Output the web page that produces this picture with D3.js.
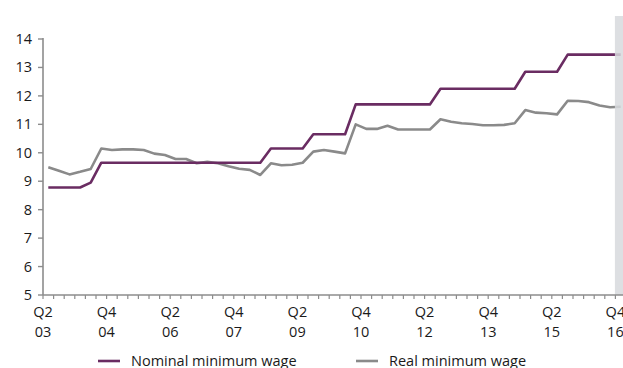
<!DOCTYPE html>
<html>

<head>
  <title>Minimum wage</title>
  <script src="https://cdn.jsdelivr.net/npm/d3@7"></script>
  <style>
    body { margin: 0; background: #fff; }
    text { font-family: "Open Sans", sans-serif; fill: #1a1a1a; }
  </style>
</head>

<body>
  <svg width="623" height="368" id="mainsvg"></svg>
  <script>
    // quarters Q2 03 .. Q4 16
    const quarters = [];
    for (let i = 0; i < 55; i++) {
      const q = (1 + i) % 4 + 1;
      const yr = 2003 + Math.floor((1 + i) / 4);
      quarters.push('Q' + q + ' ' + String(yr).slice(2));
    }

    const nominal = [
      8.78, 8.78, 8.78, 8.78, 8.95,
      9.65, 9.65, 9.65, 9.65, 9.65, 9.65, 9.65, 9.65, 9.65, 9.65, 9.65, 9.65, 9.65, 9.65, 9.65, 9.65,
      10.15, 10.15, 10.15, 10.15,
      10.65, 10.65, 10.65, 10.65,
      11.70, 11.70, 11.70, 11.70, 11.70, 11.70, 11.70, 11.70,
      12.25, 12.25, 12.25, 12.25, 12.25, 12.25, 12.25, 12.25,
      12.85, 12.85, 12.85, 12.85,
      13.45, 13.45, 13.45, 13.45, 13.45, 13.45
    ];

    const real = [
      9.49, 9.37, 9.24, 9.33, 9.43, 10.15, 10.10, 10.12, 10.12, 10.10,
      9.97, 9.92, 9.78, 9.78, 9.63, 9.68, 9.63, 9.53, 9.44, 9.40,
      9.22, 9.63, 9.56, 9.58, 9.65, 10.04, 10.10, 10.04, 9.98, 11.00,
      10.84, 10.84, 10.95, 10.82, 10.82, 10.82, 10.82, 11.18, 11.09, 11.04,
      11.01, 10.97, 10.97, 10.98, 11.04, 11.50, 11.41, 11.39, 11.35, 11.83,
      11.82, 11.78, 11.66, 11.60, 11.62
    ];

    const yTicks = [5, 6, 7, 8, 9, 10, 11, 12, 13, 14];
    const labelEvery = 6;
    const shaded = ['Q4 16'];

    const svg = d3.select('#mainsvg');
    const marginLeft = 43, plotBottom = 295, plotTop = 39;
    const step = 10.6;

    const x = d3.scaleBand().domain(quarters).range([marginLeft, marginLeft + step * quarters.length]);
    const y = d3.scaleLinear().domain([5, 14]).range([plotBottom, plotTop]);
    const cx = d => x(d) + x.bandwidth() / 2;

    const line = d3.line()
      .x((d, i) => cx(quarters[i]))
      .y(d => y(d));

    svg.append('path').datum(real)
      .attr('fill', 'none')
      .attr('stroke', '#8a8a8a')
      .attr('stroke-width', 2.6)
      .attr('stroke-linejoin', 'round')
      .attr('d', line);

    svg.append('path').datum(nominal)
      .attr('fill', 'none')
      .attr('stroke', '#6a2c62')
      .attr('stroke-width', 2.6)
      .attr('stroke-linejoin', 'round')
      .attr('d', line);

    // shaded last quarter
    svg.selectAll('rect.shade').data(shaded).join('rect')
      .attr('class', 'shade')
      .attr('x', d => x(d) - 0.5)
      .attr('y', 16)
      .attr('width', x.bandwidth())
      .attr('height', plotBottom - 16)
      .attr('fill', '#d7d9dd')
      .attr('opacity', 0.85);

    // y axis
    const axisColor = '#8c8c8c';
    svg.append('line')
      .attr('x1', marginLeft).attr('x2', marginLeft)
      .attr('y1', y(14) - 1).attr('y2', plotBottom)
      .attr('stroke', axisColor).attr('stroke-width', 1.6);

    svg.selectAll('line.ytick').data(yTicks).join('line')
      .attr('class', 'ytick')
      .attr('x1', marginLeft - 5).attr('x2', marginLeft)
      .attr('y1', d => y(d)).attr('y2', d => y(d))
      .attr('stroke', axisColor).attr('stroke-width', 1.4);

    svg.selectAll('text.ylab').data(yTicks).join('text')
      .attr('class', 'ylab')
      .attr('x', 32)
      .attr('y', d => y(d) + 5)
      .attr('text-anchor', 'end')
      .attr('font-size', 14.5)
      .text(d => d);

    // x axis
    svg.append('line')
      .attr('x1', marginLeft).attr('x2', 623)
      .attr('y1', plotBottom).attr('y2', plotBottom)
      .attr('stroke', axisColor).attr('stroke-width', 1.6);

    svg.selectAll('line.xtick').data(quarters).join('line')
      .attr('class', 'xtick')
      .attr('x1', d => x(d)).attr('x2', d => x(d))
      .attr('y1', plotBottom).attr('y2', plotBottom + 4)
      .attr('stroke', axisColor).attr('stroke-width', 1.2);

    const xLabels = quarters.filter((d, i) => i % labelEvery === 0);
    const xl = svg.selectAll('text.xlab').data(xLabels).join('text')
      .attr('class', 'xlab')
      .attr('text-anchor', 'middle')
      .attr('font-size', 14.5);
    xl.append('tspan')
      .attr('x', d => x(d)).attr('y', 317)
      .text(d => d.split(' ')[0]);
    xl.append('tspan')
      .attr('x', d => x(d)).attr('y', 337)
      .text(d => d.split(' ')[1]);

    // legend
    const legend = [
      { name: 'Nominal minimum wage', color: '#6a2c62', x: 98 },
      { name: 'Real minimum wage', color: '#8a8a8a', x: 356 }
    ];
    const lg = svg.selectAll('g.legend').data(legend).join('g')
      .attr('class', 'legend')
      .attr('transform', d => `translate(${d.x},361)`);
    lg.append('line')
      .attr('x1', 0).attr('x2', 22)
      .attr('stroke', d => d.color).attr('stroke-width', 2.6);
    lg.append('text')
      .attr('x', 33).attr('y', 5)
      .attr('font-size', 14.5)
      .text(d => d.name);
  </script>
</body>

</html>
